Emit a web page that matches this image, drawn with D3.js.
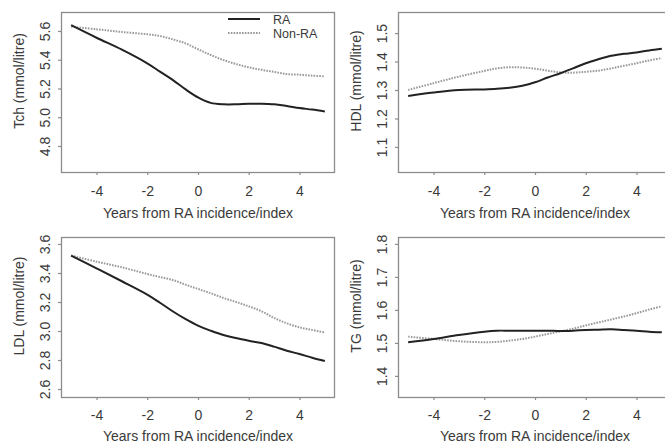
<!DOCTYPE html>
<html>
<head>
<meta charset="utf-8">
<script src="https://cdn.jsdelivr.net/npm/d3@7"></script>
<style>
  html, body { margin: 0; padding: 0; background: #fff; }
  svg { display: block; }
  text { font-family: "Liberation Sans", Arial, sans-serif; fill: #3a3a3a; }
</style>
</head>
<body>
<svg id="chart" width="665" height="448"></svg>
<script>
// ---- data ----
const years = [-5, -4, -3, -2, -1.5, -1, -0.5, 0, 0.5, 1, 1.5, 2, 2.5, 3, 3.5, 4, 4.5, 5];
const xTicks = [-4, -2, 0, 2, 4];
const seriesNames = ["RA", "Non-RA"];

const tchRA    = [5.640, 5.553, 5.470, 5.375, 5.317, 5.260, 5.195, 5.138, 5.100, 5.090, 5.090, 5.094, 5.094, 5.090, 5.078, 5.064, 5.053, 5.040];
const tchNonRA = [5.630, 5.612, 5.593, 5.577, 5.565, 5.542, 5.514, 5.473, 5.433, 5.398, 5.370, 5.347, 5.330, 5.315, 5.300, 5.296, 5.289, 5.285];

const hdlRA    = [1.279, 1.291, 1.300, 1.302, 1.304, 1.308, 1.315, 1.327, 1.344, 1.359, 1.376, 1.394, 1.408, 1.420, 1.427, 1.432, 1.439, 1.445];
const hdlNonRA = [1.300, 1.324, 1.347, 1.367, 1.376, 1.380, 1.379, 1.375, 1.368, 1.362, 1.361, 1.364, 1.368, 1.376, 1.385, 1.394, 1.404, 1.412];

const ldlRA    = [3.520, 3.432, 3.343, 3.251, 3.195, 3.136, 3.083, 3.037, 3.002, 2.972, 2.952, 2.933, 2.917, 2.892, 2.864, 2.841, 2.816, 2.793];
const ldlNonRA = [3.520, 3.478, 3.439, 3.393, 3.372, 3.352, 3.320, 3.290, 3.260, 3.228, 3.200, 3.170, 3.136, 3.090, 3.053, 3.025, 3.007, 2.990];

const tgRA     = [1.502, 1.512, 1.524, 1.534, 1.537, 1.537, 1.537, 1.537, 1.537, 1.536, 1.537, 1.539, 1.540, 1.541, 1.539, 1.537, 1.534, 1.532];
const tgNonRA  = [1.519, 1.512, 1.505, 1.502, 1.503, 1.507, 1.512, 1.519, 1.527, 1.535, 1.543, 1.553, 1.562, 1.571, 1.580, 1.590, 1.601, 1.611];

const yLabels = ["Tch (mmol/litre)", "HDL (mmol/litre)", "LDL (mmol/litre)", "TG (mmol/litre)"];
const yTicksTch = [4.8, 5.0, 5.2, 5.4, 5.6];
const yTicksHdl = [1.1, 1.2, 1.3, 1.4, 1.5];
const yTicksLdl = [2.6, 2.8, 3.0, 3.2, 3.4, 3.6];
const yTicksTg  = [1.4, 1.5, 1.6, 1.7, 1.8];
const xLabel = "Years from RA incidence/index";

// ---- layout ----
const panels = [
  { ra: tchRA, non: tchNonRA, label: yLabels[0], ticks: yTicksTch, dom: [4.619, 5.732], x0: 61,  y0: 12,  tickOff: 24, titleOff: 46, legend: true },
  { ra: hdlRA, non: hdlNonRA, label: yLabels[1], ticks: yTicksHdl, dom: [1.012, 1.574], x0: 398, y0: 12,  tickOff: 24, titleOff: 46 },
  { ra: ldlRA, non: ldlNonRA, label: yLabels[2], ticks: yTicksLdl, dom: [2.545, 3.648], x0: 61,  y0: 237, tickOff: 23, titleOff: 44 },
  { ra: tgRA,  non: tgNonRA,  label: yLabels[3], ticks: yTicksTg,  dom: [1.336, 1.821], x0: 398, y0: 237, tickOff: 23, titleOff: 44 }
];
const W = 274, H = 160;
const boxColor = "#8c8c8c";
const svg = d3.select("#chart");

panels.forEach(p => {
  const g = svg.append("g").attr("transform", `translate(${p.x0},${p.y0})`);
  const x = d3.scaleLinear().domain([-5.4, 5.4]).range([0, W]);
  const y = d3.scaleLinear().domain(p.dom).range([H, 0]);

  // box
  g.append("rect").attr("x", 0.5).attr("y", 0.5).attr("width", W - 1).attr("height", H)
    .attr("fill", "none").attr("stroke", boxColor).attr("stroke-width", 1.3);

  // x axis
  const xa = g.append("g").attr("transform", `translate(0,${H})`)
    .call(d3.axisBottom(x).tickValues(xTicks).tickSize(3).tickPadding(0).tickFormat(d => d < 0 ? "-" + Math.abs(d) : String(d)));
  xa.select(".domain").remove();
  xa.selectAll("line").attr("stroke", boxColor).attr("stroke-width", 1.2);
  xa.selectAll("text").attr("y", p.tickOff).attr("dy", 0).attr("font-size", 14).attr("fill", "#3a3a3a");

  // y axis
  const ya = g.append("g")
    .call(d3.axisLeft(y).tickValues(p.ticks).tickSize(3).tickFormat(d3.format(".1f")));
  ya.select(".domain").remove();
  ya.selectAll("line").attr("stroke", boxColor).attr("stroke-width", 1.2);
  ya.selectAll(".tick text")
    .attr("x", null).attr("dy", null)
    .attr("transform", "translate(-11,0) rotate(-90)")
    .attr("text-anchor", "middle").attr("font-size", 14).attr("fill", "#3a3a3a");

  // axis titles
  g.append("text").attr("x", W / 2).attr("y", H + p.titleOff)
    .attr("text-anchor", "middle").attr("font-size", 14).text(xLabel);
  g.append("text").attr("transform", `translate(-37,${H / 2 - 11}) rotate(-90)`)
    .attr("text-anchor", "middle").attr("font-size", 14).text(p.label);

  // lines
  const line = d3.line().x((d, i) => x(years[i])).y(d => y(d)).curve(d3.curveCatmullRom.alpha(0.5));
  g.append("path").datum(p.non).attr("d", line).attr("fill", "none")
    .attr("stroke", "#9a9a9a").attr("stroke-width", 2).attr("stroke-dasharray", "1.6,1.2");
  g.append("path").datum(p.ra).attr("d", line).attr("fill", "none")
    .attr("stroke", "#222").attr("stroke-width", 2);

  if (p.legend) {
    const lg = g.append("g").attr("transform", "translate(167,7)");
    seriesNames.forEach((name, i) => {
      const row = lg.append("g").attr("transform", `translate(0,${i * 14})`);
      row.append("line").attr("x1", 0).attr("x2", 32).attr("y1", 0).attr("y2", 0)
        .attr("stroke", i === 0 ? "#222" : "#9a9a9a").attr("stroke-width", i === 0 ? 2 : 1.8)
        .attr("stroke-dasharray", i === 0 ? null : "1.6,1.2");
      row.append("text").attr("x", 45).attr("y", 4.5).attr("font-size", 12.5).text(name);
    });
  }
});
</script>
</body>
</html>
